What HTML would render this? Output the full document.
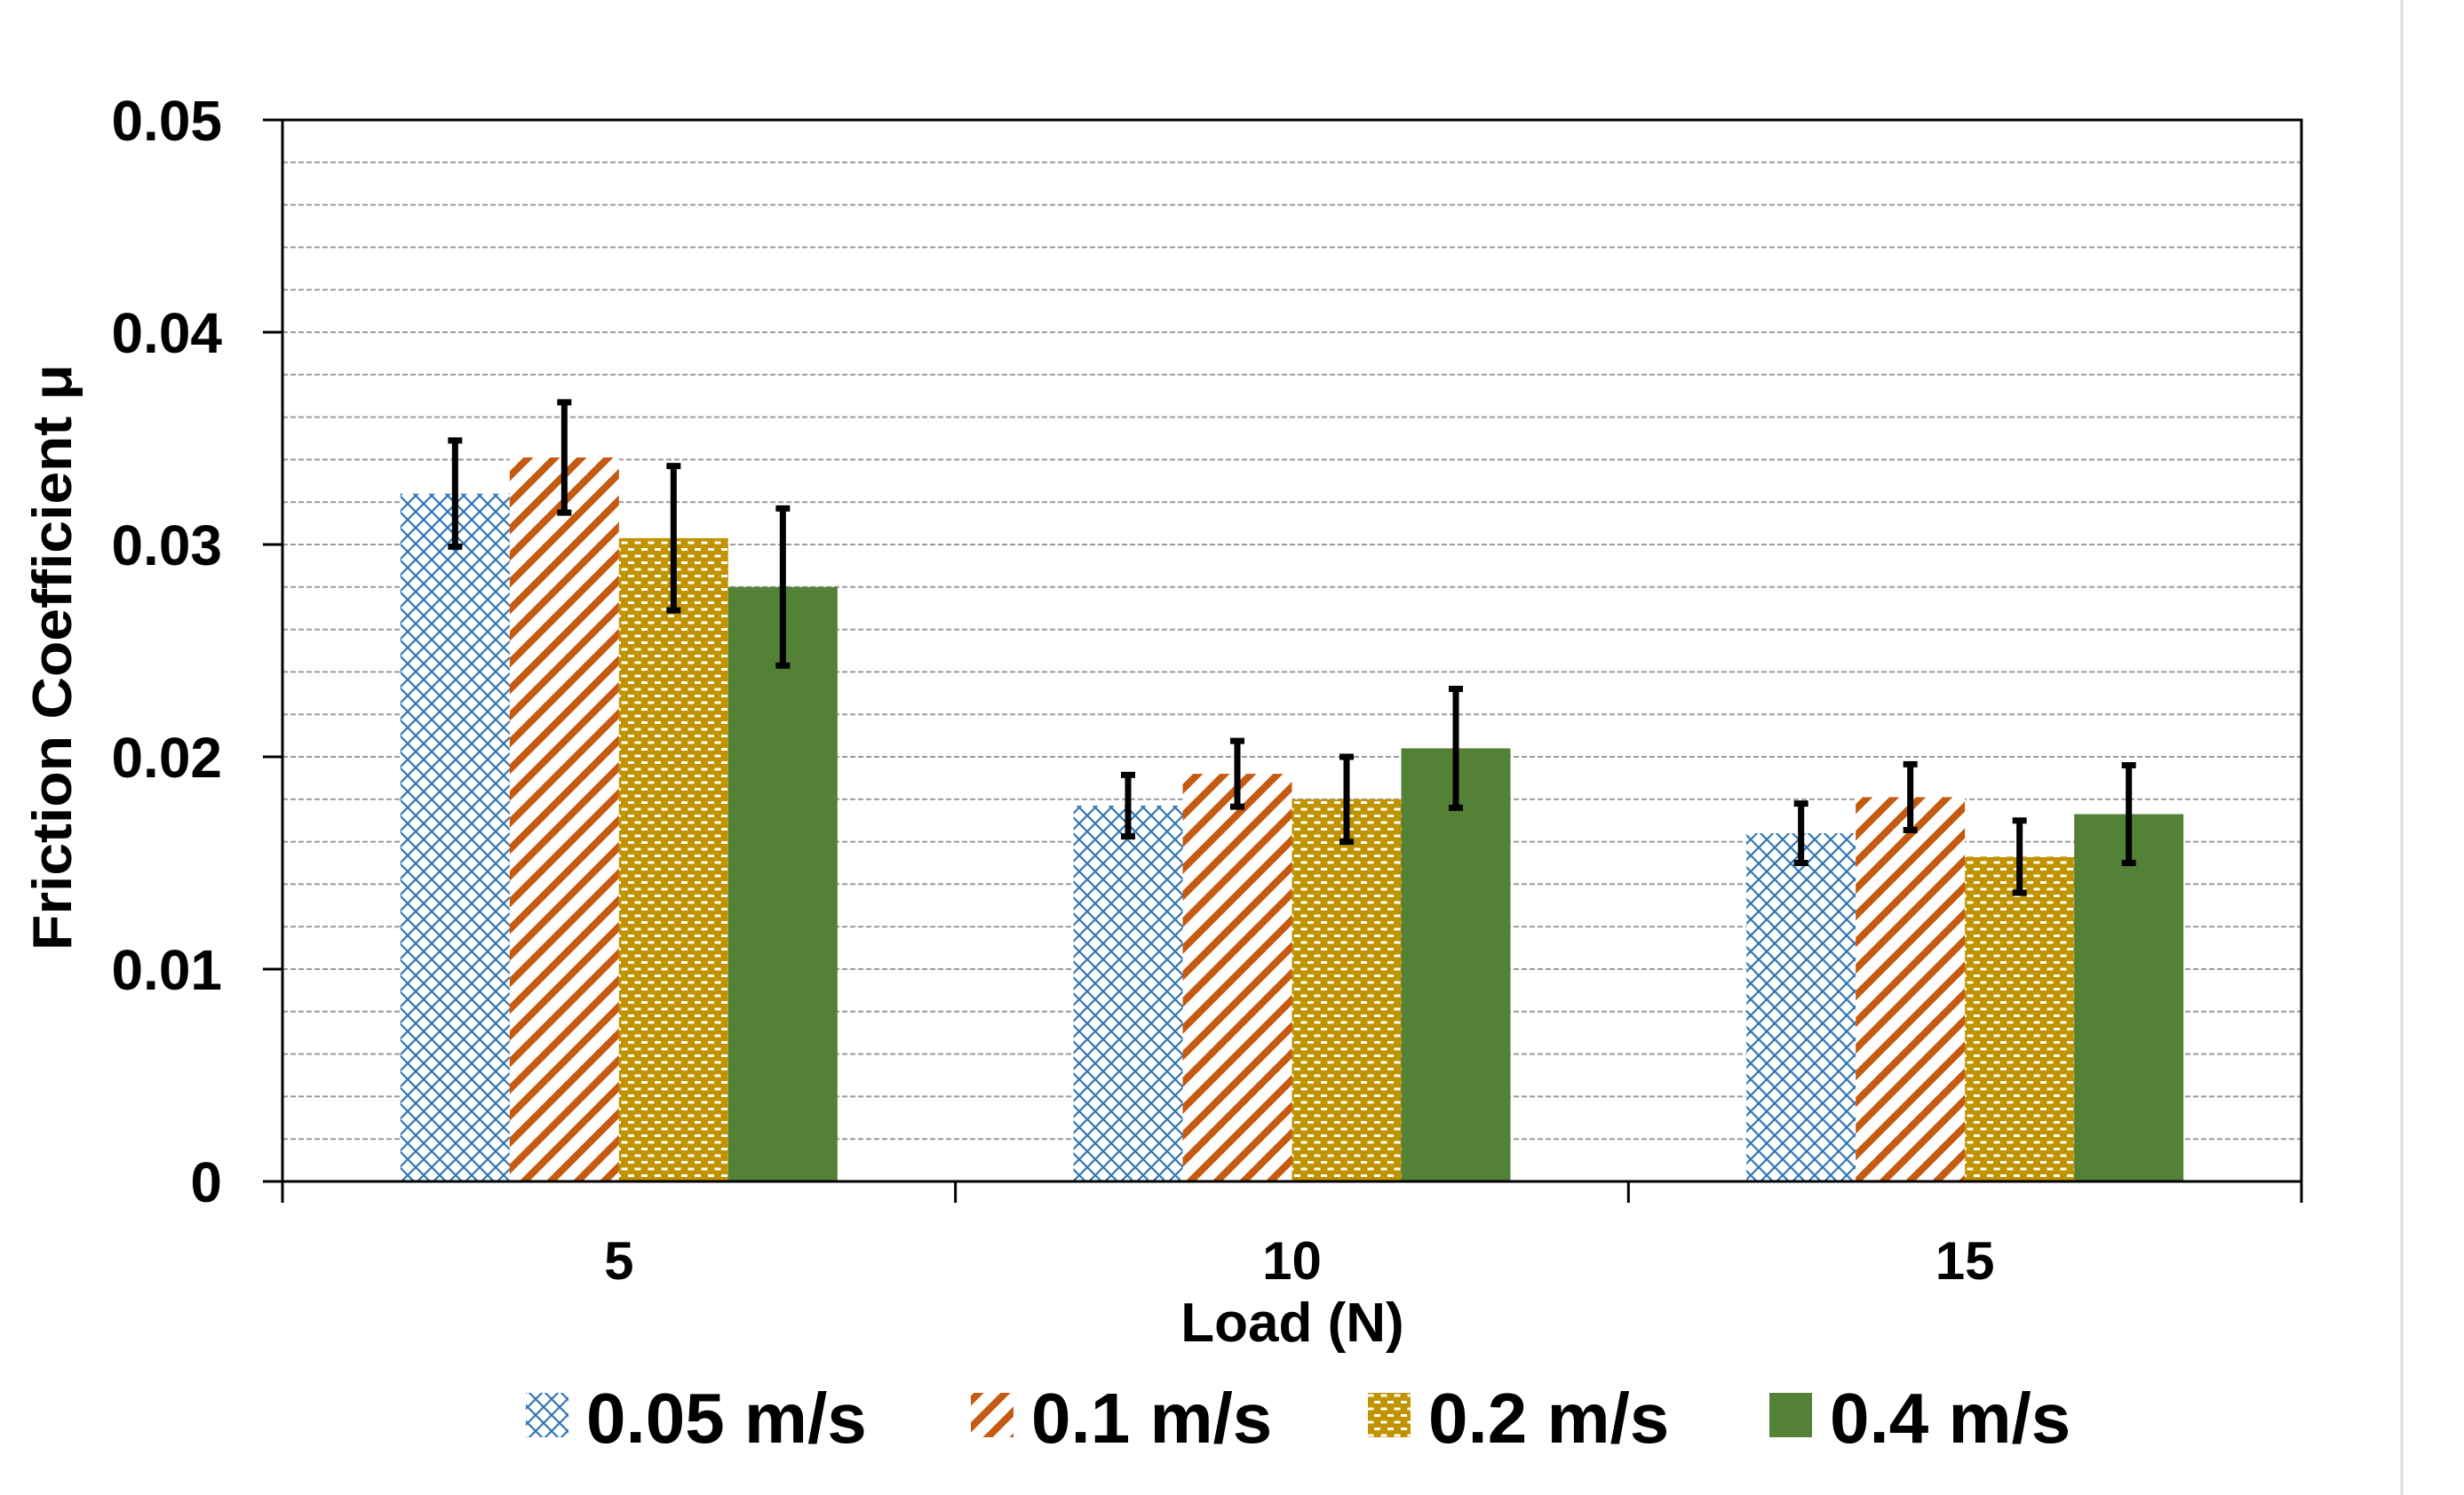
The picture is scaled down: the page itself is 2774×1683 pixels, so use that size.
<!DOCTYPE html>
<html><head><meta charset="utf-8"><style>
html,body{margin:0;padding:0;background:#fff;}
svg{display:block;}
text{font-family:"Liberation Sans",sans-serif;font-weight:bold;fill:#000;}
</style></head><body>
<svg id="chart" width="2774" height="1683" viewBox="0 0 2774 1683" xmlns="http://www.w3.org/2000/svg">
<defs>
<pattern id="pBlue" patternUnits="userSpaceOnUse" width="18" height="18">
<rect width="18" height="18" fill="#fff"/>
<path d="M0 0 L18 18 M18 0 L0 18" stroke="#2e75b6" stroke-width="2.2"/>
</pattern>
<pattern id="pOrange" patternUnits="userSpaceOnUse" width="30" height="30">
<rect width="30" height="30" fill="#fff"/>
<path d="M-8 38 L38 -8 M-38 38 L38 -38 M-8 68 L68 -8" stroke="#c55a11" stroke-width="8"/>
</pattern>
<pattern id="pGold" patternUnits="userSpaceOnUse" width="15" height="15">
<rect width="15" height="15" fill="#c09400"/>
<rect x="2" y="2" width="7" height="3" fill="#fff"/>
<rect x="9.5" y="9.5" width="7" height="3" fill="#fff"/>
<rect x="-5.5" y="9.5" width="7" height="3" fill="#fff"/>
</pattern>
</defs>
<line x1="2704" y1="0" x2="2704" y2="1683" stroke="#ddd" stroke-width="3"/>
<g id="grid"></g>
<g id="bars"></g>
<g id="axes"></g>
<text transform="translate(80,740) rotate(-90)" text-anchor="middle" font-size="62" textLength="660" lengthAdjust="spacingAndGlyphs">Friction Coefficient μ</text>
<text x="1455" y="1510" text-anchor="middle" font-size="62">Load (N)</text>
<g id="legend"></g>
</svg>
<script>
const categories = ["5","10","15"];
const seriesNames = ["0.05 m/s","0.1 m/s","0.2 m/s","0.4 m/s"];
const s005 = [0.0324,0.0177,0.0164];
const s01 = [0.0341,0.0192,0.0181];
const s02 = [0.0303,0.0180,0.0153];
const s04 = [0.0280,0.0204,0.0173];
const e005 = [0.0025,0.00145,0.0014];
const e01 = [0.0026,0.00155,0.00155];
const e02 = [0.0034,0.002,0.0017];
const e04 = [0.0037,0.0028,0.0023];
const yTicks = [0,0.01,0.02,0.03,0.04,0.05];
const yTickLabels = ["0","0.01","0.02","0.03","0.04","0.05"];

const NS="http://www.w3.org/2000/svg";
const L=318,R=2591,T=135,B=1330,YMAX=0.05;
const y=v=>B-(v/YMAX)*(B-T);
const gw=(R-L)/categories.length;
const barW=123;
const x=(ci,si)=>L+gw*ci+gw/2-2*barW+si*barW;
function mk(tag,attrs,parent){const e=document.createElementNS(NS,tag);for(const k in attrs)e.setAttribute(k,attrs[k]);parent.appendChild(e);return e;}
const grid=document.getElementById('grid'),bars=document.getElementById('bars'),axes=document.getElementById('axes'),legend=document.getElementById('legend');
for(let v=0.002;v<YMAX-1e-9;v+=0.002){
  const g=mk('line',{x1:L,x2:R,y1:y(v),y2:y(v),stroke:'#9a9a9a','stroke-width':2,'stroke-dasharray':'6 3'},grid);
  
  
}
const series=[s005,s01,s02,s04], errs=[e005,e01,e02,e04];
const fills=['url(#pBlue)','url(#pOrange)','url(#pGold)','#538135'];
series.forEach((s,si)=>{
  s.forEach((v,ci)=>{
    const r=mk('rect',{x:x(ci,si),y:y(v),width:barW,height:B-y(v),fill:fills[si]},bars);
    
    
    const cx=x(ci,si)+barW/2, e=errs[si][ci];
    const eb=mk('path',{d:`M${cx} ${y(v+e)} V${y(v-e)} M${cx-8} ${y(v+e)} H${cx+8} M${cx-8} ${y(v-e)} H${cx+8}`,stroke:'#000','stroke-width':7,fill:'none'},bars);
    
    
  });
});
const frame=mk('rect',{x:L,y:T,width:R-L,height:B-T,fill:'none',stroke:'#000','stroke-width':3},axes);


yTicks.forEach((v,i)=>{
  const t=mk('line',{x1:L-22,x2:L,y1:y(v),y2:y(v),stroke:'#000','stroke-width':3},axes);
  
  
  const tx=mk('text',{x:250,y:y(v)+23,'text-anchor':'end','font-size':64},axes);
  tx.textContent=yTickLabels[i];
  
  
});
for(let i=0;i<=categories.length;i++){
  const t=mk('line',{x1:L+gw*i,x2:L+gw*i,y1:B,y2:B+24,stroke:'#000','stroke-width':3},axes);
  
  
}
categories.forEach((c,i)=>{
  const tx=mk('text',{x:L+gw*i+gw/2,y:1440,'text-anchor':'middle','font-size':60},axes);
  tx.textContent=c;
  
  
});
const lx=[592,1093,1540,1992];
seriesNames.forEach((n,i)=>{
  const g=mk('g',{},legend);
  
  
  mk('rect',{x:lx[i],y:1568,width:48,height:50,fill:fills[i]},g);
  const t=mk('text',{x:lx[i]+68,y:1624,'font-size':80},g);
  t.textContent=n;
});
</script>
</body></html>
